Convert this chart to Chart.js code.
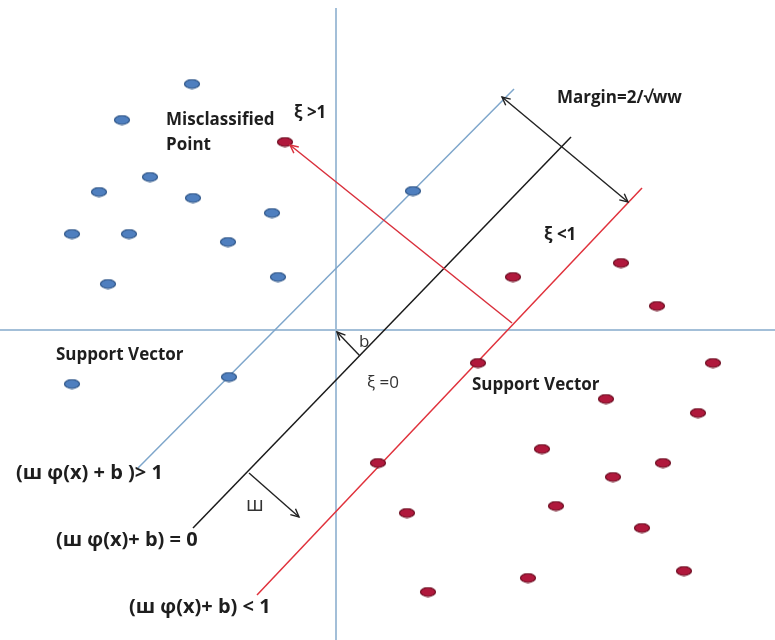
<!DOCTYPE html>
<html>
<head>
<meta charset="utf-8">
<title>SVM margin</title>
<script src="https://cdn.jsdelivr.net/npm/chart.js@4.4.0/dist/chart.umd.min.js"></script>
<style>
  html, body { margin: 0; padding: 0; background: #fff; }
  #wrap { width: 775px; height: 640px; }
</style>
</head>
<body>
<div id="wrap"><canvas id="svmChart" width="775" height="640"></canvas></div>
<script>
'use strict';

// class +1 (blue)
const blueX = [192, 122, 150, 99, 193, 272, 72, 129, 228, 108, 278, 413, 72, 229];
const blueY = [84, 120, 177, 192, 198, 213, 234, 234, 242, 284, 277, 191, 384, 377];

// class -1 (red)
const redX = [513, 621, 657, 478, 713, 606, 698, 542, 378, 663, 613, 556, 407, 642, 684, 528, 428];
const redY = [277, 263, 306, 363, 363, 399, 413, 449, 463, 463, 477, 506, 513, 528, 571, 578, 592];

// misclassified point
const wrongX = [285];
const wrongY = [142];

// axes and hyperplanes (end points)
const axisV = [[336, 8], [336, 640]];
const axisH = [[0, 330], [775, 330]];
const planePos = [[138, 468], [514, 89]];
const planeZero = [[193, 528], [571, 137]];
const planeNeg = [[257, 595], [642, 188]];

// arrows: from -> to
const slackArrow = [[512, 323], [290, 145]];
const marginArrow = [[502, 97], [628, 202]];
const biasArrow = [[360, 356], [337, 332]];
const normalArrow = [[249, 473], [299, 517]];

// labels
const labelText = ['Misclassified', 'Point', 'ξ >1', 'Margin=2/√ww', 'ξ <1', 'b', 'ξ =0',
  'Support Vector', 'Support Vector', '(ш φ(x) + b )> 1', '(ш φ(x)+ b) = 0', '(ш φ(x)+ b) < 1', 'ш'];
const labelX = [166, 166, 294, 557, 544, 359, 367, 56, 472, 16, 56, 129, 246];
const labelY = [120, 145, 113, 98, 235, 342, 383, 355, 385, 473, 540, 607, 505];
const labelBold = [true, true, true, true, true, false, false, true, true, true, true, true, false];
const labelSize = [17, 17, 17, 17, 17, 17, 17, 17, 17, 20, 20, 20, 20];

const toPts = arr => arr.map(p => ({ x: p[0], y: p[1] }));
const zipPts = (xs, ys) => xs.map((x, i) => ({ x: x, y: ys[i] }));

function makeDot(fill, stroke) {
  const c = document.createElement('canvas');
  c.width = 18;
  c.height = 11;
  const g = c.getContext('2d');
  g.beginPath();
  g.ellipse(9, 5.5, 7.5, 4.3, 0, 0, Math.PI * 2);
  g.fillStyle = fill;
  g.fill();
  g.lineWidth = 1.2;
  g.strokeStyle = stroke;
  g.stroke();
  return c;
}

const blueDot = makeDot('#4f7fbf', '#2f5688');
const redDot = makeDot('#b0183c', '#6e0e22');

function lineSet(pts, color, width) {
  return {
    type: 'line',
    data: toPts(pts),
    borderColor: color,
    borderWidth: width,
    pointRadius: 0,
    fill: false,
    tension: 0
  };
}

function drawHead(ctx, x1, y1, x2, y2, color) {
  const ang = Math.atan2(y2 - y1, x2 - x1);
  const len = 9;
  ctx.save();
  ctx.strokeStyle = color;
  ctx.lineWidth = 1.4;
  ctx.beginPath();
  ctx.moveTo(x2 - len * Math.cos(ang - 0.45), y2 - len * Math.sin(ang - 0.45));
  ctx.lineTo(x2, y2);
  ctx.lineTo(x2 - len * Math.cos(ang + 0.45), y2 - len * Math.sin(ang + 0.45));
  ctx.stroke();
  ctx.restore();
}

const decorPlugin = {
  id: 'decor',
  afterDatasetsDraw(chart) {
    const ctx = chart.ctx;
    const sx = chart.scales.x;
    const sy = chart.scales.y;
    const px = v => sx.getPixelForValue(v);
    const py = v => sy.getPixelForValue(v);

    const heads = [
      [slackArrow, '#d9303c', false],
      [marginArrow, '#222', true],
      [biasArrow, '#222', false],
      [normalArrow, '#222', false]
    ];
    heads.forEach(h => {
      const a = h[0];
      drawHead(ctx, px(a[0][0]), py(a[0][1]), px(a[1][0]), py(a[1][1]), h[1]);
      if (h[2]) drawHead(ctx, px(a[1][0]), py(a[1][1]), px(a[0][0]), py(a[0][1]), h[1]);
    });

    ctx.save();
    ctx.textBaseline = 'middle';
    ctx.textAlign = 'left';
    labelText.forEach((t, i) => {
      ctx.font = (labelBold[i] ? 'bold ' : '') + labelSize[i] + 'px "Open Sans", "DejaVu Sans", sans-serif';
      ctx.fillStyle = labelBold[i] ? '#1e1e1e' : '#333';
      ctx.fillText(t, px(labelX[i]), py(labelY[i]));
    });
    ctx.restore();
  }
};

const ctx = document.getElementById('svmChart').getContext('2d');
const svmChart = new Chart(ctx, {
  type: 'scatter',
  data: {
    datasets: [
      { data: zipPts(blueX, blueY), pointStyle: blueDot, pointRadius: 7 },
      { data: zipPts(redX, redY), pointStyle: redDot, pointRadius: 7 },
      { data: zipPts(wrongX, wrongY), pointStyle: redDot, pointRadius: 7 },
      lineSet(slackArrow, '#d9303c', 1.5),
      lineSet(marginArrow, '#222', 1.4),
      lineSet(biasArrow, '#222', 1.4),
      lineSet(normalArrow, '#222', 1.4),
      lineSet(planeZero, '#1a1a1a', 1.5),
      lineSet(planeNeg, '#e0323c', 1.5),
      lineSet(planePos, '#7ea6cb', 1.5),
      lineSet(axisV, '#a3bfd8', 2),
      lineSet(axisH, '#a3bfd8', 2)
    ]
  },
  options: {
    responsive: false,
    animation: false,
    layout: { padding: 0, autoPadding: false },
    plugins: {
      legend: { display: false },
      tooltip: { enabled: false }
    },
    scales: {
      x: { type: 'linear', min: 0, max: 775, display: false },
      y: { type: 'linear', min: 0, max: 640, reverse: true, display: false }
    }
  },
  plugins: [decorPlugin]
});
</script>
</body>
</html>
